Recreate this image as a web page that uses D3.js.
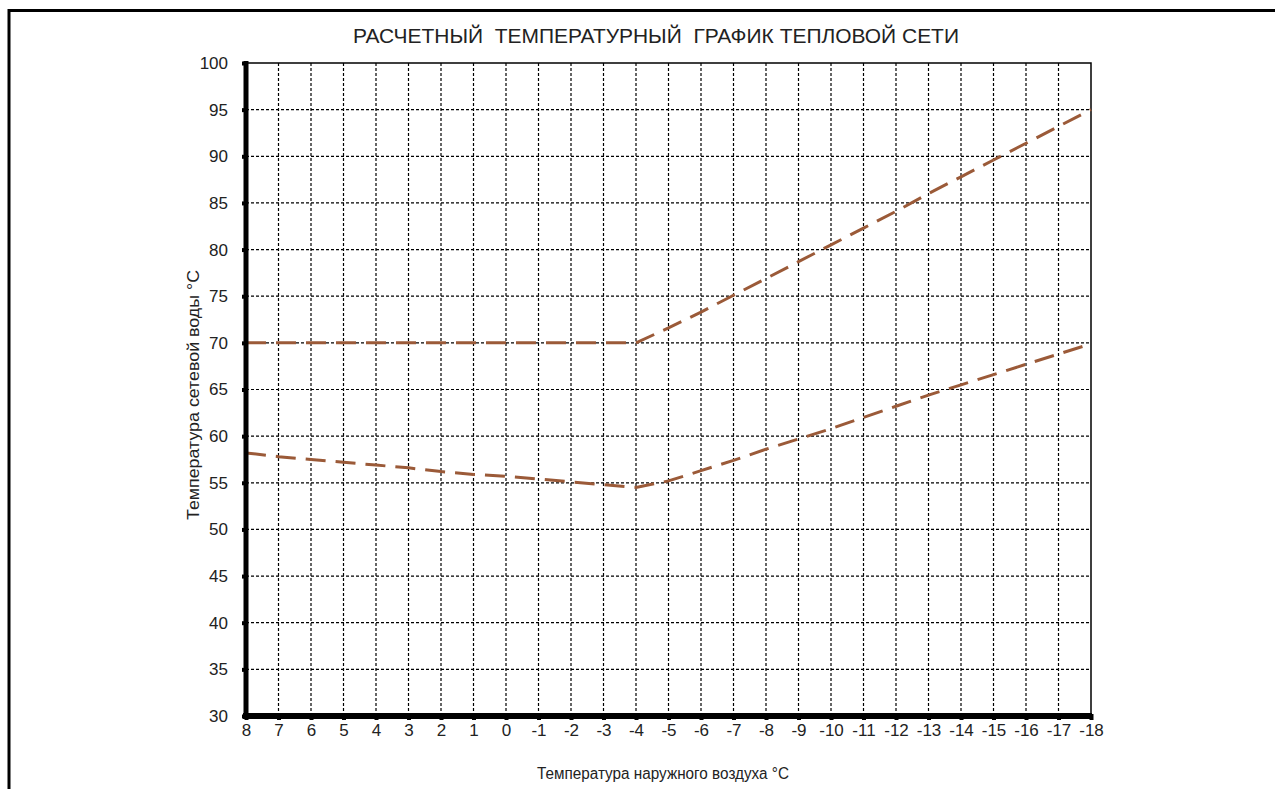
<!DOCTYPE html>
<html>
<head>
  <meta charset="utf-8">
  <title></title>
  <style>
    body,html{
      margin:0;
      padding:0;
      background:#fff;
      font-family: "Liberation Sans", Arial, sans-serif;
    }
    #chart{
      width:1275px;
      height:789px;
    }
    .grid line{
      stroke:#000;
      stroke-width:1.2;
      stroke-dasharray:3,2;
    }
    .axis text{
      font-size:17px;
      fill:#222;
    }
  </style>
</head>
<body>
  <div id="chart"></div>
  <script src="https://d3js.org/d3.v7.min.js"></script>
  <script type="text/javascript">

    // outdoor air temperature, degC
    var outdoorTemp = [8, 7, 6, 5, 4, 3, 2, 1, 0, -1, -2, -3, -4, -5, -6, -7, -8, -9, -10, -11, -12, -13, -14, -15, -16, -17, -18];
    // supply water temperature
    var supplyTemp = [70, 70, 70, 70, 70, 70, 70, 70, 70, 70, 70, 70, 70, 71.6, 73.3, 75.1, 76.9, 78.7, 80.5, 82.3, 84.1, 86.0, 87.8, 89.6, 91.4, 93.2, 95];
    // return water temperature
    var returnTemp = [58.2, 57.8, 57.5, 57.2, 56.9, 56.6, 56.2, 55.9, 55.7, 55.4, 55.1, 54.8, 54.5, 55.2, 56.3, 57.4, 58.6, 59.7, 60.8, 62.0, 63.2, 64.4, 65.5, 66.6, 67.7, 68.8, 69.9];
    var yTicks = [30, 35, 40, 45, 50, 55, 60, 65, 70, 75, 80, 85, 90, 95, 100];

    var title = 'РАСЧЕТНЫЙ  ТЕМПЕРАТУРНЫЙ  ГРАФИК ТЕПЛОВОЙ СЕТИ';
    var xTitle = 'Температура наружного воздуха °С';
    var yTitle = 'Температура сетевой воды °С';

    var width = 1275, height = 789;
    var margin = {left:246, right:184, top:63, bottom:73};

    var svg = d3.select('#chart').append('svg')
      .attr('width', width).attr('height', height);

    // outer frame (top & left edges visible)
    svg.append('path')
      .attr('d', 'M9,' + (height + 5) + 'V10.5H' + (width + 5))
      .attr('fill', 'none').attr('stroke', '#000').attr('stroke-width', 3);

    var x = d3.scaleLinear().domain([8, -18]).range([margin.left, width - margin.right]);
    var y = d3.scaleLinear().domain([30, 100]).range([height - margin.bottom, margin.top]);

    // grid
    var grid = svg.append('g').attr('class', 'grid');
    grid.selectAll('line.v').data(outdoorTemp.slice(1, -1)).enter().append('line')
      .attr('class', 'v')
      .attr('x1', function(d){ return x(d); }).attr('x2', function(d){ return x(d); })
      .attr('y1', y(100)).attr('y2', y(30));
    grid.selectAll('line.h').data(yTicks.slice(1, -1)).enter().append('line')
      .attr('class', 'h')
      .attr('y1', function(d){ return y(d); }).attr('y2', function(d){ return y(d); })
      .attr('x1', x(8)).attr('x2', x(-18));

    // solid top / right border of the plot
    svg.append('path')
      .attr('d', 'M' + x(8) + ',' + y(100) + 'H' + x(-18) + 'V' + y(30))
      .attr('fill', 'none').attr('stroke', '#000').attr('stroke-width', 1.5);

    // series
    var line = d3.line()
      .x(function(d){ return x(d[0]); })
      .y(function(d){ return y(d[1]); });

    [supplyTemp, returnTemp].forEach(function(s){
      svg.append('path')
        .datum(outdoorTemp.map(function(t, i){ return [t, s[i]]; }))
        .attr('fill', 'none')
        .attr('stroke', '#9b5a38')
        .attr('stroke-width', 3)
        .attr('stroke-dasharray', '20,10')
        .attr('d', line);
    });

    // axes
    var xAxis = d3.axisBottom(x).tickValues(outdoorTemp).tickFormat(d3.format('d'))
      .tickSize(4).tickSizeOuter(0).tickPadding(4);
    var gx = svg.append('g').attr('class', 'axis')
      .attr('transform', 'translate(0,' + y(30) + ')').call(xAxis);
    gx.select('.domain').attr('stroke-width', 6).attr('d', 'M' + (x(8) - 3) + ',0H' + (x(-18) + 1));
    gx.selectAll('.tick line').attr('stroke-width', 4).attr('y1', -2);
    gx.selectAll('.tick text').attr('font-family', '"Liberation Sans", Arial, sans-serif')
      .text(function(d){ return d < 0 ? '-' + Math.abs(d) : d; });

    var yAxis = d3.axisLeft(y).tickValues(yTicks).tickSize(4).tickSizeOuter(0).tickPadding(14);
    var gy = svg.append('g').attr('class', 'axis')
      .attr('transform', 'translate(' + x(8) + ',0)').call(yAxis);
    gy.select('.domain').attr('stroke-width', 5).attr('d', 'M0,' + (y(100) - 2) + 'V' + (y(30) + 3));
    gy.selectAll('.tick line').attr('stroke-width', 4);
    gy.selectAll('.tick text').attr('font-family', '"Liberation Sans", Arial, sans-serif');

    // titles
    svg.append('text')
      .attr('x', 656).attr('y', 43)
      .attr('text-anchor', 'middle')
      .attr('font-size', 21)
      .attr('fill', '#222')
      .attr('textLength', 606).attr('lengthAdjust', 'spacingAndGlyphs')
      .style('white-space', 'pre')
      .text(title);

    svg.append('text')
      .attr('x', 663).attr('y', 779)
      .attr('text-anchor', 'middle')
      .attr('font-size', 16)
      .attr('fill', '#222')
      .attr('textLength', 252).attr('lengthAdjust', 'spacingAndGlyphs')
      .text(xTitle);

    svg.append('text')
      .attr('transform', 'translate(199,395) rotate(-90)')
      .attr('text-anchor', 'middle')
      .attr('font-size', 16)
      .attr('fill', '#222')
      .attr('textLength', 250).attr('lengthAdjust', 'spacingAndGlyphs')
      .text(yTitle);

  </script>
</body>
</html>
